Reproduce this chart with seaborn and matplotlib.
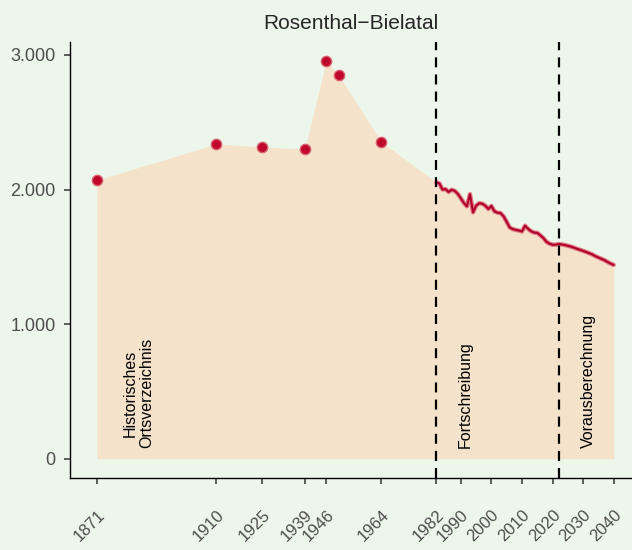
import numpy as np
import pandas as pd
import matplotlib
matplotlib.use("Agg")
import matplotlib.pyplot as plt
import seaborn as sns

# historic census values (Historisches Ortsverzeichnis)
hist_years = [1871, 1910, 1925, 1939, 1946, 1950, 1964]
hist_pop = [2070, 2338, 2316, 2301, 2956, 2852, 2353]

# yearly values 1982-2040 (Fortschreibung + Vorausberechnung)
line_years = list(range(1982, 2041))
line_pop = [2053, 2045, 2000, 2003, 1982, 1998, 1990, 1968, 1935, 1900,
            1875, 1965, 1830, 1880, 1898, 1895, 1880, 1855, 1878, 1838,
            1828, 1825, 1800, 1760, 1718, 1706, 1700, 1695, 1688, 1731,
            1708, 1690, 1680, 1678, 1660, 1640, 1612, 1598, 1590, 1590,
            1595, 1592, 1588, 1582, 1576, 1568, 1560, 1552, 1544, 1536,
            1527, 1518, 1505, 1495, 1485, 1475, 1462, 1450, 1440]

tick_years = [1871, 1910, 1925, 1939, 1946, 1964, 1982, 1990, 2000, 2010, 2020, 2030, 2040]
y_ticks = [0, 1000, 2000, 3000]
y_labels = ["0", "1.000", "2.000", "3.000"]
phase_lines = [1982, 2022]
phase_text = [(1884.6, "Historisches\nOrtsverzeichnis"), (1991.5, "Fortschreibung"), (2031.8, "Vorausberechnung")]

bg = "#ecf6ea"
sns.set_style("ticks", {"axes.facecolor": bg, "figure.facecolor": bg})
plt.rcParams["font.family"] = ["Liberation Sans", "DejaVu Sans"]

hist = pd.DataFrame({"Jahr": hist_years, "Einwohner": hist_pop})
proj = pd.DataFrame({"Jahr": line_years, "Einwohner": line_pop})
full = pd.concat([hist, proj], ignore_index=True)

fig = plt.figure(figsize=(6.32, 5.5), dpi=100)
ax = fig.add_axes([0.111, 0.131, 0.889, 0.793])

ax.fill_between(full["Jahr"], 0, full["Einwohner"], color="#f5e2cb", lw=0, zorder=1)

sns.lineplot(data=proj, x="Jahr", y="Einwohner", ax=ax, color="#e07a86", lw=3.2, zorder=3)
sns.lineplot(data=proj, x="Jahr", y="Einwohner", ax=ax, color="#b0002a", lw=1.5, zorder=4)
sns.scatterplot(data=hist, x="Jahr", y="Einwohner", ax=ax, color="#c0082c", s=55,
                edgecolor="#d9606e", linewidth=1.0, zorder=5)

for yr in phase_lines:
    ax.axvline(yr, color="black", lw=1.6, linestyle=(0, (4.5, 3.2)), zorder=6)

for xx, txt in phase_text:
    ax.text(xx, 80, txt, rotation=90, ha="center", va="bottom", fontsize=11.5,
            color="black", linespacing=1.15, zorder=7)

ax.set_xlim(1862.2, 2046)
ax.set_ylim(-142, 3097)
ax.set_xticks(tick_years)
ax.set_xticklabels([str(t) for t in tick_years], rotation=45, ha="right", va="top",
                   rotation_mode="anchor", fontsize=12, color="#4d4d4d")
ax.set_yticks(y_ticks)
ax.set_yticklabels(y_labels, fontsize=13, color="#4d4d4d")
ax.tick_params(axis="x", length=4, width=1.1, color="#333333", pad=17)
ax.tick_params(axis="y", length=4, width=1.1, color="#333333", pad=6.5)
ax.set_xlabel("")
ax.set_ylabel("")
ax.set_title("Rosenthal\u2212Bielatal", fontsize=15, pad=9)
sns.despine(ax=ax)
for s in ["left", "bottom"]:
    ax.spines[s].set_color("black")
    ax.spines[s].set_linewidth(1.0)

fig.savefig("out.png", dpi=100, facecolor=bg)
